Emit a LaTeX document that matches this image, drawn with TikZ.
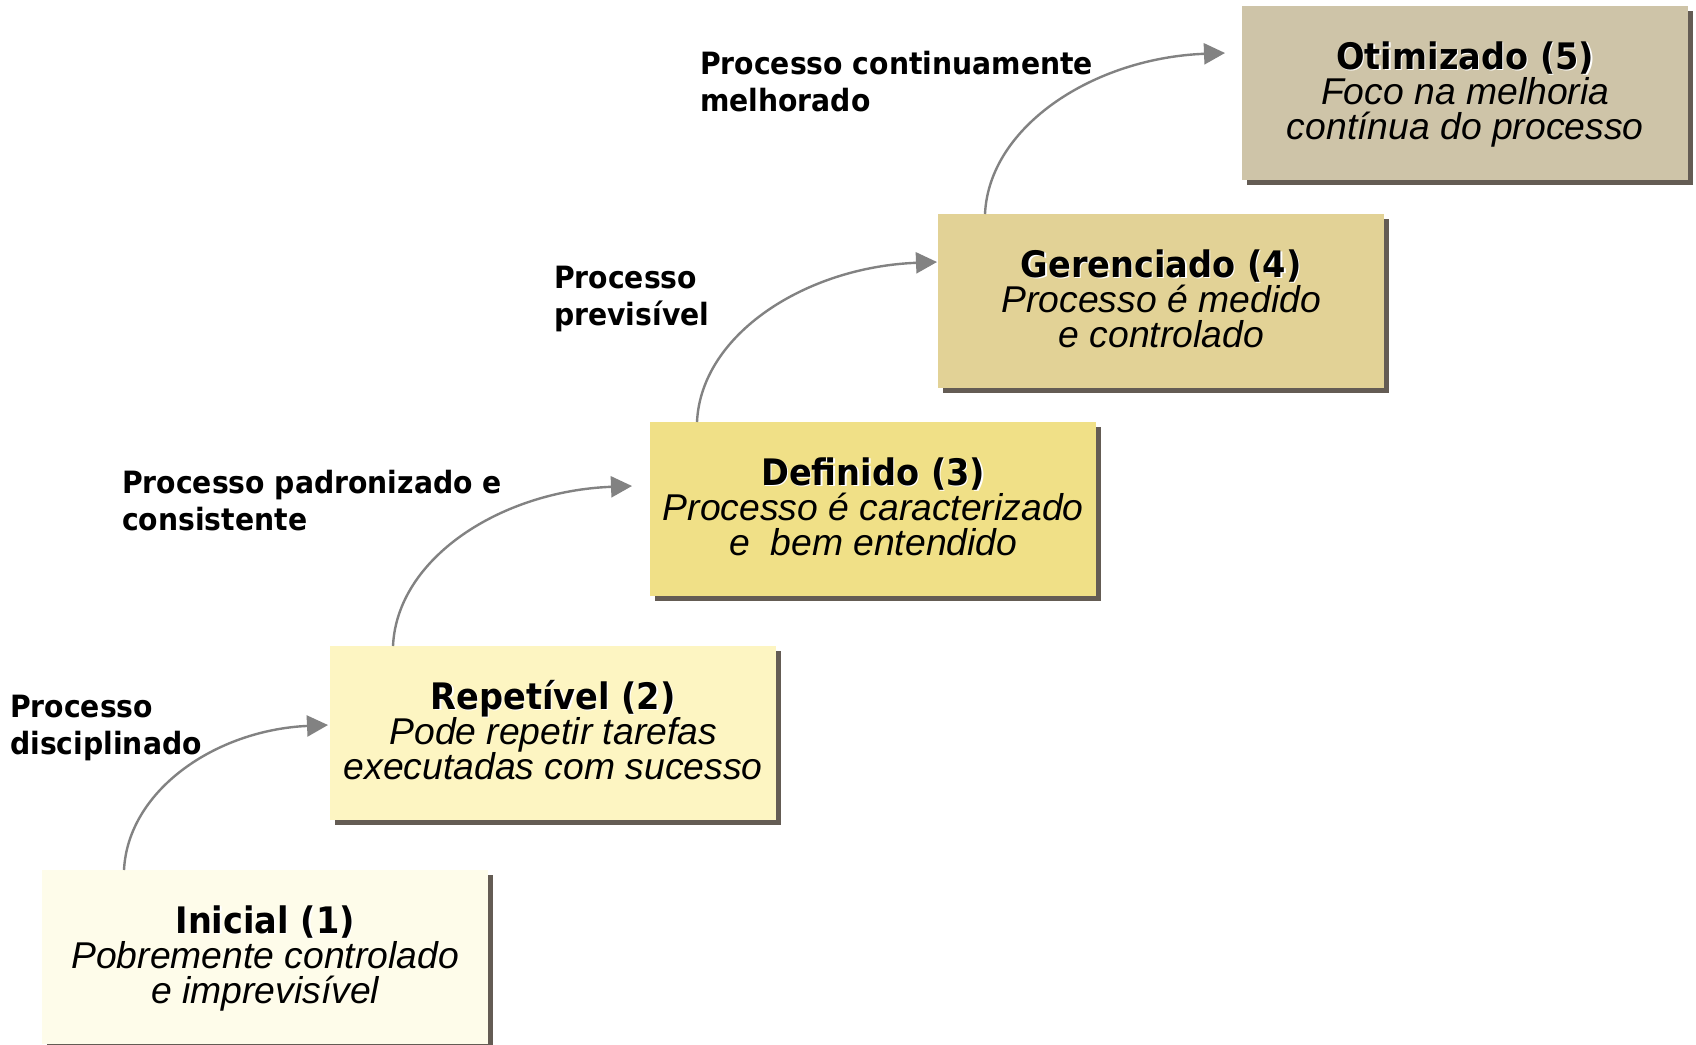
\documentclass[tikz,border=0pt]{standalone}
\usepackage{fontspec}
\usetikzlibrary{calc,arrows.meta,shadows}

\newfontfamily\headfont[FakeStretch=0.92]{DejaVu Sans}
\newfontfamily\bodyfont{Liberation Sans}

\definecolor{lvlone}{RGB}{254,252,234}
\definecolor{lvltwo}{RGB}{253,245,194}
\definecolor{lvlthree}{RGB}{240,224,135}
\definecolor{lvlfour}{RGB}{226,210,150}
\definecolor{lvlfive}{RGB}{206,196,168}
\definecolor{shadowc}{RGB}{100,92,84}
\definecolor{arrowc}{RGB}{130,130,130}

% title with a light halo on its lower right
\newcommand\embossed[1]{\makebox[0pt][l]{\hspace{1.3pt}\raisebox{-1.3pt}{\color{white}#1}}#1}
\newcommand\titlefont{\headfont\bfseries\fontsize{36.5}{40}\selectfont}
\newcommand\descfont{\bodyfont\itshape\fontsize{37.3}{40}\selectfont}
\newcommand\labelfnt{\headfont\bfseries\fontsize{30.7}{36}\selectfont}

% three centred lines: title, then two description lines
\newcommand\stagetext[3]{\vtop{\lineskiplimit=-\maxdimen\baselineskip=35pt
  \halign{\hfil##\hfil\cr\titlefont\embossed{#1}\cr\descfont #2\cr\descfont #3\cr}}}
% two left-aligned lines of a transition label
\newcommand\twolines[2]{\vtop{\lineskiplimit=-\maxdimen\baselineskip=37pt
  \hbox{#1}\hbox{#2}}}

\begin{document}
\begin{tikzpicture}[x=1pt,y=-1pt,
  stage/.style={rectangle, draw=none, inner sep=0pt, anchor=north west,
    minimum width=446pt, minimum height=174pt,
    drop shadow={shadow xshift=5pt, shadow yshift=-5pt, opacity=1, fill=shadowc}},
  stagelbl/.style={anchor=base, inner sep=0pt, text=black},
  steplbl/.style={anchor=base west, inner sep=0pt, text=black, font=\labelfnt},
  conn/.style={draw=arrowc, line width=2.4pt, -{Triangle[length=21pt,width=21pt]}}]

\useasboundingbox (0,0) rectangle (1696,1044);
\fill[white] (0,0) rectangle (1696,1044);

% the five maturity levels
\node[stage, fill=lvlone]   (b1) at (42,870) {};
\node[stage, fill=lvltwo]   (b2) at (330,646) {};
\node[stage, fill=lvlthree] (b3) at (650,422) {};
\node[stage, fill=lvlfour]  (b4) at (938,214) {};
\node[stage, fill=lvlfive]  (b5) at (1242,6) {};

\node[stagelbl] (t1) at ($(b1.north)+(0,63)$)
  {\stagetext{Inicial (1)}{Pobremente controlado}{e imprevisível}};
\node[stagelbl] (t2) at ($(b2.north)+(0,63)$)
  {\stagetext{Repetível (2)}{Pode repetir tarefas}{executadas com sucesso}};
\node[stagelbl] (t3) at ($(b3.north)+(0,63)$)
  {\stagetext{Definido (3)}{Processo é caracterizado}{e\ \ bem entendido}};
\node[stagelbl] (t4) at ($(b4.north)+(0,63)$)
  {\stagetext{Gerenciado (4)}{Processo é medido}{e controlado}};
\node[stagelbl] (t5) at ($(b5.north)+(0,63)$)
  {\stagetext{Otimizado (5)}{Foco na melhoria}{contínua do processo}};

% transition labels
\node[steplbl] (l1) at (10,717) {\twolines{Processo}{disciplinado}};
\node[steplbl] (l2) at (122,493) {\twolines{Processo padronizado e}{consistente}};
\node[steplbl] (l3) at (554,288) {\twolines{Processo}{previsível}};
\node[steplbl] (l4) at (700,74) {\twolines{Processo continuamente}{melhorado}};

% arrow end points on the boxes
\coordinate (s1) at ($(b1.north west)+(82,0)$);
\coordinate (e1) at ($(b2.north west)+(-2,79)$);
\coordinate (s2) at ($(b2.north west)+(63,0)$);
\coordinate (e2) at ($(b3.north west)+(-18,64)$);
\coordinate (s3) at ($(b3.north west)+(47,0)$);
\coordinate (e3) at ($(b4.north west)+(-1,48)$);
\coordinate (s4) at ($(b4.north west)+(47,0)$);
\coordinate (e4) at ($(b5.north west)+(-17,47)$);

\draw[conn] (s1) .. controls ($(s1)+(4,-80)$) and ($(e1)+(-112,5)$) .. (e1);
\draw[conn] (s2) .. controls ($(s2)+(4,-88)$) and ($(e2)+(-131,5)$) .. (e2);
\draw[conn] (s3) .. controls ($(s3)+(4,-88)$) and ($(e3)+(-131,5)$) .. (e3);
\draw[conn] (s4) .. controls ($(s4)+(4,-88)$) and ($(e4)+(-131,5)$) .. (e4);
\end{tikzpicture}
\end{document}
